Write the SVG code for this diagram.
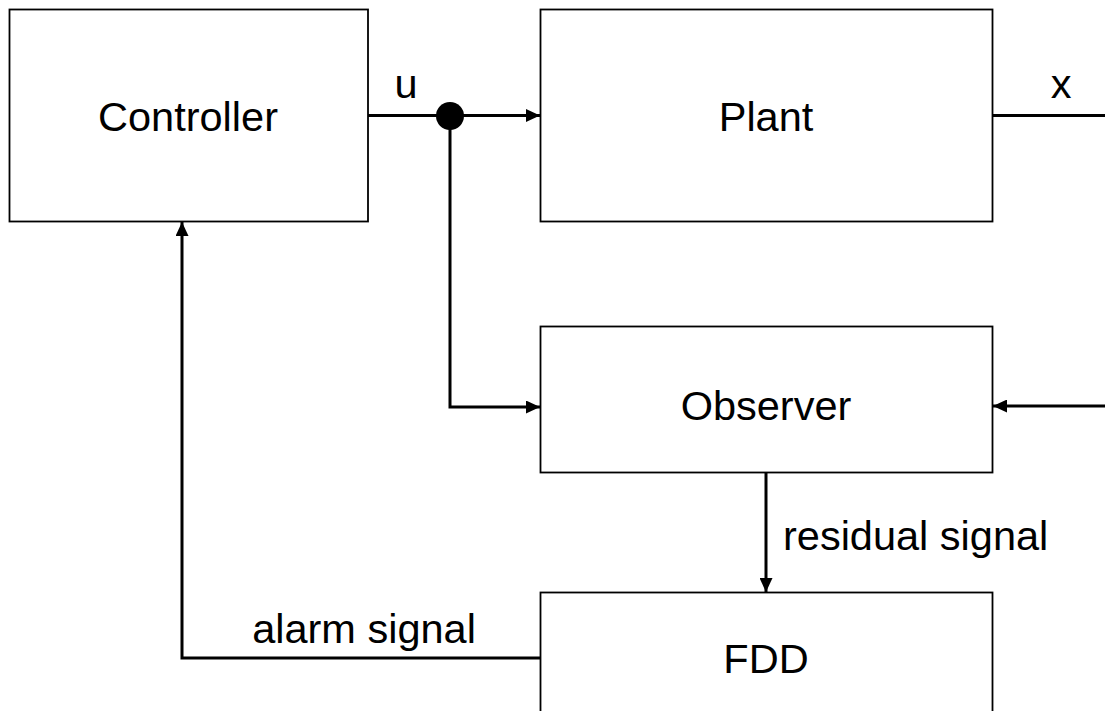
<svg xmlns="http://www.w3.org/2000/svg" width="1105" height="711" viewBox="0 0 1105 711">
<style>
.box{fill:#fff;stroke:#000;stroke-width:1.8}
.lbl{font-family:"Liberation Sans",Arial,sans-serif;font-size:41.5px;fill:#000}
.wire{fill:none;stroke:#000;stroke-width:3}
</style>
<defs>
<marker id="arr" markerWidth="14" markerHeight="13" refX="14" refY="6.5" orient="auto" markerUnits="userSpaceOnUse">
<path d="M0,0 L14,6.5 L0,13 Z" fill="#000"/>
</marker>
</defs>
<rect width="1105" height="711" fill="#fff"/>
<g id="controller">
<rect class="box" x="9.5" y="9.5" width="358.5" height="212"/>
<text class="lbl" x="188" y="131" text-anchor="middle">Controller</text>
</g>
<g id="plant">
<rect class="box" x="540.5" y="9.5" width="452" height="212"/>
<text class="lbl" x="766" y="131" text-anchor="middle">Plant</text>
</g>
<g id="observer">
<rect class="box" x="540.5" y="326.5" width="452" height="146"/>
<text class="lbl" x="766" y="420" text-anchor="middle">Observer</text>
</g>
<g id="fdd">
<rect class="box" x="540.5" y="592.5" width="452" height="130"/>
<text class="lbl" x="766" y="673" text-anchor="middle">FDD</text>
</g>
<g id="connectors">
<path class="wire" d="M368,115.5 H540" marker-end="url(#arr)"/>
<circle cx="450" cy="116" r="14" fill="#000"/>
<path class="wire" d="M450,116 V407 H540" marker-end="url(#arr)"/>
<path class="wire" d="M993,115.5 H1105"/>
<path class="wire" d="M1105,406 H993" marker-end="url(#arr)"/>
<path class="wire" d="M766,473 V592" marker-end="url(#arr)"/>
<path class="wire" d="M540,658 H182 V222" marker-end="url(#arr)"/>
<text class="lbl" x="406" y="98" text-anchor="middle">u</text>
<text class="lbl" x="1061" y="98" text-anchor="middle">x</text>
<text class="lbl" x="783" y="550">residual signal</text>
<text class="lbl" x="364" y="643" text-anchor="middle">alarm signal</text>
</g>
</svg>
